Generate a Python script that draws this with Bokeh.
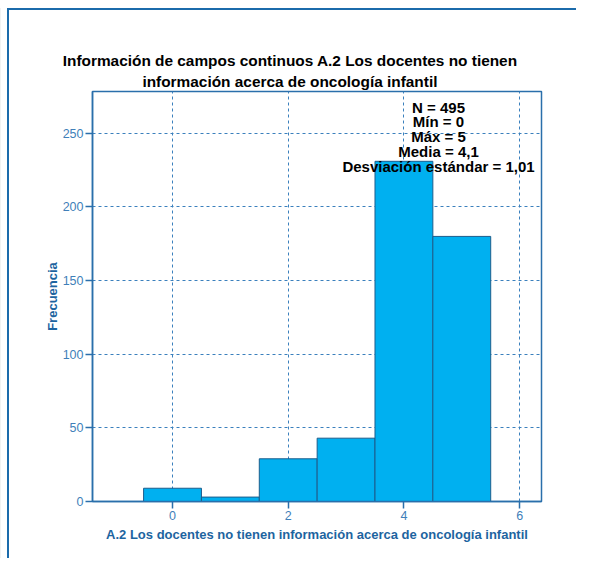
import glob
from bokeh.plotting import figure
from bokeh.models import Range1d, FixedTicker, Label, Title
from bokeh.embed import file_html
from bokeh.resources import INLINE

# ---- data ----
values = [0, 1, 2, 3, 4, 5]
counts = [9, 3, 29, 43, 231, 180]
x_ticks = [0, 2, 4, 6]
y_ticks = [0, 50, 100, 150, 200, 250]
title_lines = ["Información de campos continuos A.2 Los docentes no tienen",
               "información acerca de oncología infantil"]
stats_lines = ["N = 495", "Mín = 0", "Máx = 5", "Media = 4,1",
               "Desviación estándar = 1,01"]
x_label = "A.2 Los docentes no tienen información acerca de oncología infantil"
y_label = "Frecuencia"

FONT = "Liberation Sans"
AXIS_C = "#2a6fab"
TICK_C = "#3f7fb9"
TITLE_C = "#1d64a0"
GRID_C = "#3b80bd"
BAR_FILL = "#00b0f0"
BAR_LINE = "#1c5d8c"
EDGE_C = "#1b6bab"
TITLE_SIZE = 15.4

def text_width(txt, size):
    try:
        from PIL import ImageFont
        files = glob.glob("/usr/share/fonts/**/LiberationSans-Bold.ttf", recursive=True)
        f = ImageFont.truetype(files[0], size)
        return f.getlength(txt)
    except Exception:
        return 0.56 * size * len(txt)

W, H = 576, 550
ML, MT, FW, FH = 92, 83, 449, 410
p = figure(width=W, height=H, output_backend="svg", toolbar_location=None,
           x_range=Range1d(-1.383, 6.378), y_range=Range1d(0, 278.4),
           min_border_left=ML, min_border_right=W - ML - FW, min_border_top=MT,
           min_border_bottom=H - MT - FH)
# outer page frame (top and left edges), drawn behind a transparent canvas border
p.styles = {
    "margin-top": "8px",
    "background": (f"linear-gradient({EDGE_C},{EDGE_C}) 7px 0 / 2px 100% no-repeat, "
                   f"linear-gradient({EDGE_C},{EDGE_C}) 7px 0 / 100% 2px no-repeat, "
                   "linear-gradient(#f2f2f2,#f2f2f2) 0 0 / 1px 100% no-repeat"),
}
p.border_fill_color = None
p.background_fill_color = "white"

p.vbar(x=values, top=counts, width=1.0, bottom=0,
       fill_color=BAR_FILL, line_color=BAR_LINE, line_width=1)

p.outline_line_color = AXIS_C
p.outline_line_width = 1.5

for ax in (p.xaxis[0], p.yaxis[0]):
    ax.axis_line_color = AXIS_C
    ax.axis_line_width = 1.5
    ax.major_tick_line_color = AXIS_C
    ax.major_tick_line_width = 1.5
    ax.major_tick_out = 7
    ax.major_tick_in = 0
    ax.minor_tick_line_color = None
    ax.major_label_text_color = TICK_C
    ax.major_label_text_font = FONT
    ax.major_label_text_font_size = "12.5px"
    ax.major_label_standoff = 2
    ax.axis_label_text_color = TITLE_C
    ax.axis_label_text_font = FONT
    ax.axis_label_text_font_style = "bold"
    ax.axis_label_text_font_size = "13px"

p.xaxis.ticker = FixedTicker(ticks=x_ticks)
p.yaxis.ticker = FixedTicker(ticks=y_ticks)
p.xaxis.axis_label = x_label
p.yaxis.axis_label = y_label
p.xaxis.axis_label_standoff = 4
p.yaxis.axis_label_standoff = 0

p.xgrid.ticker = FixedTicker(ticks=x_ticks)
p.ygrid.ticker = FixedTicker(ticks=y_ticks)
for g in (p.xgrid[0], p.ygrid[0]):
    g.grid_line_color = GRID_C
    g.grid_line_dash = "3 3"
    g.grid_line_width = 1

# title: two lines centred about 27 px left of the frame centre
centre = FW / 2 - 27
for txt, so in zip(reversed(title_lines), [4, 0]):  # first added sits nearest the frame
    w = text_width(txt, TITLE_SIZE)
    p.add_layout(Title(text=txt, align="left", offset=centre - w / 2,
                       standoff=so, text_font=FONT, text_font_style="bold",
                       text_font_size=f"{TITLE_SIZE}px", text_color="black",
                       text_line_height=0.8), "above")

# statistics block
for txt, y in zip(stats_lines, [394.5, 379.7, 365.0, 350.2, 335.2]):
    p.add_layout(Label(x=346, y=y, x_units="screen", y_units="screen",
                       text=txt, text_align="center", text_baseline="alphabetic",
                       text_font=FONT, text_font_style="bold",
                       text_font_size="15px", text_color="black"))

open("out.html", "w").write(file_html(p, INLINE))
